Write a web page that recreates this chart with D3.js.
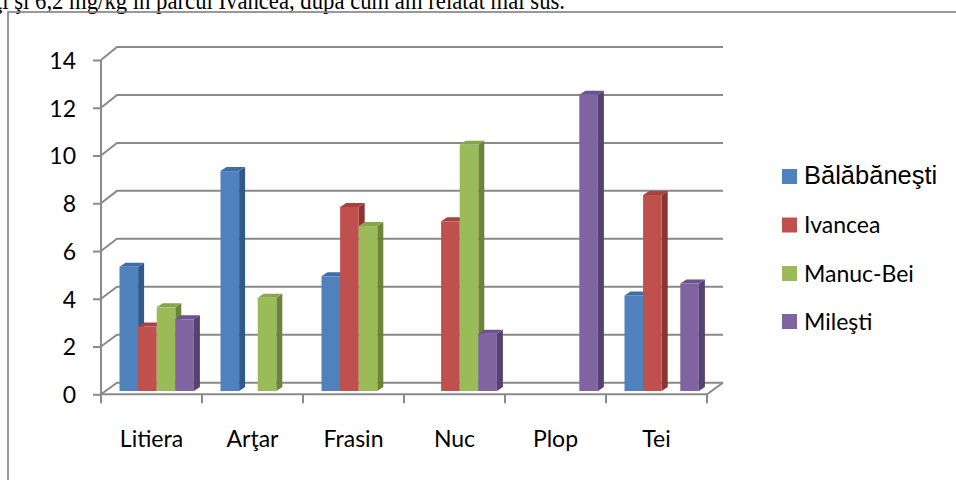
<!DOCTYPE html>
<html>
<head>
<meta charset="utf-8">
<script src="https://cdn.jsdelivr.net/npm/d3@7"></script>
<style>
html,body{margin:0;padding:0;background:#fff;}
svg{display:block;}
</style>
</head>
<body>
<svg id="chart" width="956" height="480"></svg>
<script>
const categories = ["Litiera", "Arţar", "Frasin", "Nuc", "Plop", "Tei"];
const seriesNames = ["Bălăbăneşti", "Ivancea", "Manuc-Bei", "Mileşti"];
const balabanesti = [5.2, 9.2, 4.8, null, null, 4.0];
const ivancea     = [2.7, null, 7.7, 7.1, null, 8.2];
const manucBei    = [3.5, 3.9, 6.9, 10.3, null, null];
const milesti     = [3.0, null, null, 2.4, 12.4, 4.5];
const yTicks = [0, 2, 4, 6, 8, 10, 12, 14];
const colors = {
  front: ["#4f81bd", "#c0504d", "#9bbb59", "#8064a2"],
  side:  ["#31598a", "#8a3533", "#6b843a", "#54426f"],
  top:   ["#3f6ea6", "#a8423f", "#86a64a", "#6c5390"]
};
const captionText = "ţi şi 6,2 mg/kg în parcul Ivancea, după cum am relatat mai sus.";

const seriesValues = [balabanesti, ivancea, manucBei, milesti];
const svg = d3.select("#chart");

// caption line of surrounding document (cut off at top, as in the reference)
svg.append("text")
  .attr("x", -4).attr("y", 8.5)
  .attr("font-family", "'Liberation Serif', 'Times New Roman', serif")
  .attr("font-size", 25)
  .attr("textLength", 569).attr("lengthAdjust", "spacingAndGlyphs")
  .attr("fill", "#000")
  .text(captionText);

// chart frame
svg.append("rect")
  .attr("x", 8).attr("y", 12).attr("width", 1000).attr("height", 500)
  .attr("fill", "none").attr("stroke", "#808080").attr("stroke-width", 1.6);

const x = d3.scaleBand().domain(categories).range([101, 707]).paddingInner(0).paddingOuter(0);
const inner = d3.scaleBand().domain(seriesNames).range([18.5, 18.5 + 74.4]).padding(0);
const yFront = d3.scaleLinear().domain([0, 14]).range([394.3, 60]);
const yBack = d3.scaleLinear().domain([0, 14]).range([382.7, 47]);
const yBar = d3.scaleLinear().domain([0, 14]).range([391, 391 - 14 * 23.9]);

const gridColor = "#8a8a8a";
const depthX = 16;

// gridlines (back wall + left wall diagonals)
const grid = svg.append("g");
yTicks.forEach(t => {
  grid.append("path")
    .attr("d", `M${x.range()[0]},${yFront(t)}L${x.range()[0] + depthX},${yBack(t)}L${x.range()[1] + depthX},${yBack(t)}`)
    .attr("fill", "none").attr("stroke", gridColor).attr("stroke-width", 2);
});
// floor front edge and right edge
grid.append("path")
  .attr("d", `M${x.range()[0]},${yFront(0)}L${x.range()[1]},${yFront(0)}L${x.range()[1] + depthX},${yBack(0)}`)
  .attr("fill", "none").attr("stroke", gridColor).attr("stroke-width", 2);

// y axis
const yAxis = d3.axisLeft(yFront).tickValues(yTicks).tickSize(8).tickPadding(17).tickFormat(d3.format("d"));
const gy = svg.append("g").attr("transform", `translate(${x.range()[0]},0)`).call(yAxis);
gy.select(".domain").attr("stroke", gridColor).attr("stroke-width", 2).attr("d", `M0,${yFront(14)}V${yFront(0)}`);
gy.selectAll(".tick line").attr("stroke", gridColor).attr("stroke-width", 2);
gy.selectAll(".tick text")
  .attr("font-family", "Lato, 'Open Sans', sans-serif")
  .attr("font-size", 23).attr("fill", "#000").attr("dy", "0.36em");

// x axis
const xBoundaries = categories.map(c => x(c)).concat([x.range()[1]]);
const gx = svg.append("g");
gx.selectAll("line").data(xBoundaries).join("line")
  .attr("x1", d => d).attr("x2", d => d)
  .attr("y1", yFront(0)).attr("y2", yFront(0) + 9)
  .attr("stroke", gridColor).attr("stroke-width", 2);
gx.selectAll("text").data(categories).join("text")
  .attr("x", d => x(d) + x.bandwidth() / 2)
  .attr("y", 446.7)
  .attr("text-anchor", "middle")
  .attr("font-family", "Lato, 'Open Sans', sans-serif")
  .attr("font-size", 23).attr("fill", "#000")
  .text(d => d);

// bars
const dX = 6, dY = -4;
const bars = [];
categories.forEach((c, ci) => {
  seriesNames.forEach((s, si) => {
    const v = seriesValues[si][ci];
    if (v != null) bars.push({c, s, si, v});
  });
});
const gb = svg.append("g");
bars.forEach(b => {
  const x0 = x(b.c) + inner(b.s);
  const w = inner.bandwidth();
  const y0 = yBar(0), y1 = yBar(b.v);
  const g = gb.append("g");
  g.append("path")
    .attr("d", `M${x0 + w},${y1}L${x0 + w + dX},${y1 + dY}L${x0 + w + dX},${y0 + dY}L${x0 + w},${y0}Z`)
    .attr("fill", colors.side[b.si]);
  g.append("path")
    .attr("d", `M${x0},${y1}L${x0 + dX},${y1 + dY}L${x0 + w + dX},${y1 + dY}L${x0 + w},${y1}Z`)
    .attr("fill", colors.top[b.si]);
  g.append("rect")
    .attr("x", x0).attr("y", y1).attr("width", w).attr("height", y0 - y1)
    .attr("fill", colors.front[b.si]);
});

// legend
const legendY = [176.5, 225, 273.5, 321.5];
const lg = svg.append("g");
seriesNames.forEach((s, i) => {
  lg.append("rect")
    .attr("x", 782).attr("y", legendY[i] - 7.5).attr("width", 15).attr("height", 15)
    .attr("fill", colors.front[i]);
  lg.append("text")
    .attr("x", 804).attr("y", legendY[i] + 7.5 + (i === 0 ? 0 : 0.5))
    .attr("font-family", i === 0 ? "'Liberation Sans', Arial, sans-serif" : "Lato, 'Open Sans', sans-serif")
    .attr("font-size", i === 0 ? 25.5 : 23)
    .attr("fill", "#000")
    .text(s);
});
</script>
</body>
</html>
